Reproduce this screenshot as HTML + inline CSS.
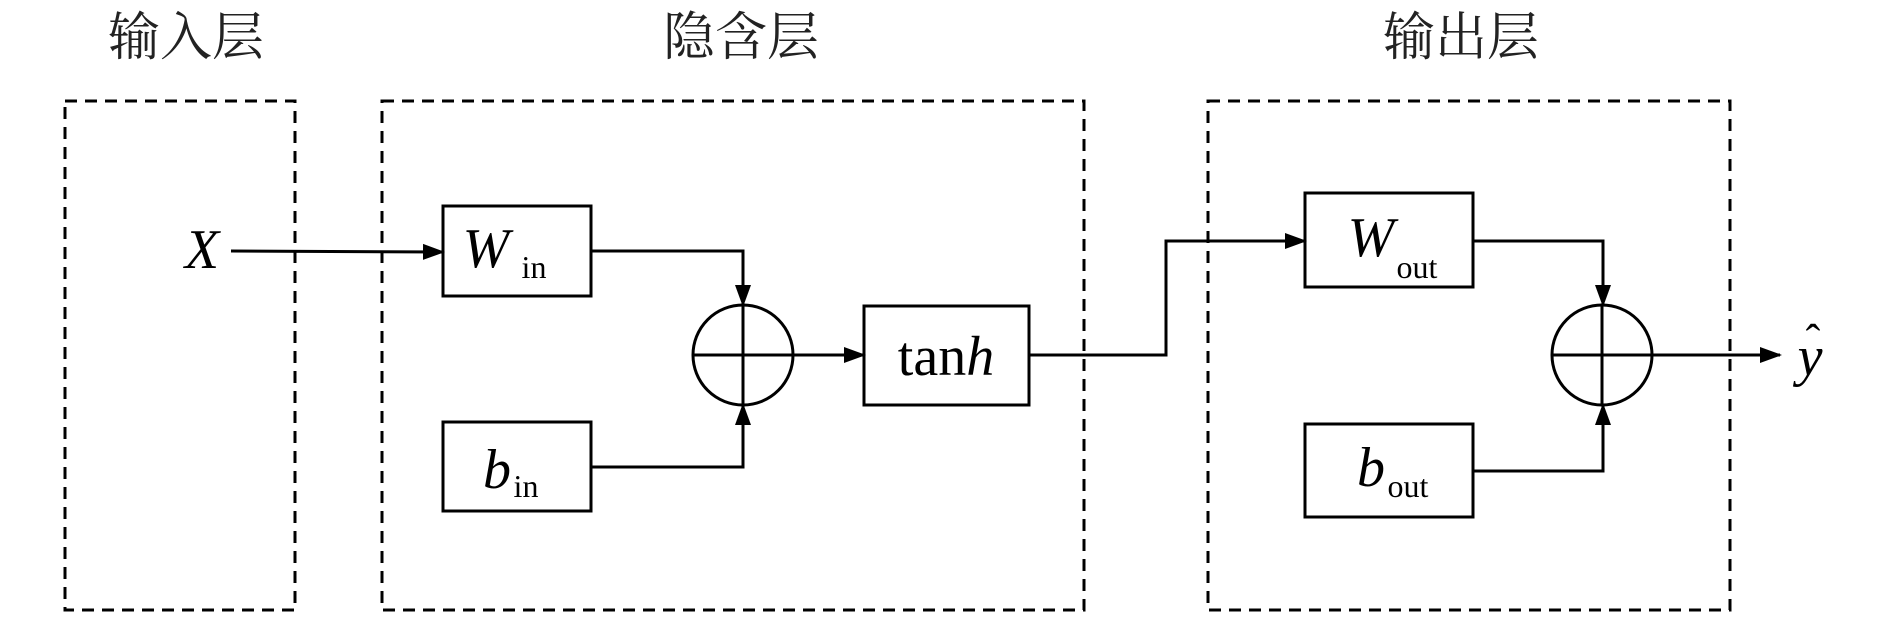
<!DOCTYPE html>
<html><head><meta charset="utf-8"><style>
html,body{margin:0;padding:0;background:#fff;}
</style></head><body>
<svg width="1890" height="619" viewBox="0 0 1890 619" xmlns="http://www.w3.org/2000/svg">
<defs>
<marker id="a" markerWidth="10" markerHeight="10" refX="9" refY="5" orient="auto" markerUnits="userSpaceOnUse" viewBox="0 0 10 10">
<path d="M0,0 L10,5 L0,10 z" fill="#000"/></marker>
<marker id="b" markerWidth="22" markerHeight="20" refX="20" refY="10" orient="auto" markerUnits="userSpaceOnUse" viewBox="0 0 22 20">
<path d="M0,2 L22,10 L0,18 z" fill="#000"/></marker>
</defs>
<g font-family="'Liberation Serif','Noto Serif CJK SC',serif" font-size="52" text-anchor="middle" fill="#222">
<text x="186" y="55">输入层</text>
<text x="741" y="55">隐含层</text>
<text x="1461" y="55">输出层</text>
</g>
<g fill="none" stroke="#000" stroke-width="3" stroke-dasharray="12,8">
<rect x="65" y="101" width="230" height="509"/>
<rect x="382" y="101" width="702" height="509"/>
<rect x="1208" y="101" width="522" height="509"/>
</g>
<g fill="#fff" stroke="#000" stroke-width="3">
<rect x="443" y="206" width="148" height="90"/>
<rect x="443" y="422" width="148" height="89"/>
<rect x="864" y="306" width="165" height="99"/>
<rect x="1305" y="193" width="168" height="94"/>
<rect x="1305" y="424" width="168" height="93"/>
<ellipse cx="743" cy="355" rx="50" ry="50"/>
<ellipse cx="1602" cy="355" rx="50" ry="50"/>
</g>
<g stroke="#000" stroke-width="3" fill="none">
<line x1="693" y1="355" x2="793" y2="355"/><line x1="743" y1="305" x2="743" y2="405"/>
<line x1="1552" y1="355" x2="1652" y2="355"/><line x1="1602" y1="305" x2="1602" y2="405"/>
<line x1="231" y1="251" x2="443" y2="252" marker-end="url(#b)"/>
<polyline points="591,251 743,251 743,305" marker-end="url(#b)"/>
<polyline points="591,467 743,467 743,405" marker-end="url(#b)"/>
<line x1="793" y1="355" x2="864" y2="355" marker-end="url(#b)"/>
<polyline points="1029,355 1166,355 1166,241 1305,241" marker-end="url(#b)"/>
<polyline points="1473,241 1603,241 1603,305" marker-end="url(#b)"/>
<polyline points="1473,471 1603,471 1603,405" marker-end="url(#b)"/>
<line x1="1652" y1="355" x2="1780" y2="355" marker-end="url(#b)"/>
</g>
<g font-family="'Liberation Serif',serif" fill="#000">
<text x="202" y="268" font-size="56" font-style="italic" text-anchor="middle">X</text>
<text x="486" y="267" font-size="56" font-style="italic" text-anchor="middle">W</text>
<text x="534" y="278" font-size="32" text-anchor="middle">in</text>
<text x="497" y="488" font-size="56" font-style="italic" text-anchor="middle">b</text>
<text x="526" y="497" font-size="32" text-anchor="middle">in</text>
<text x="946" y="375" font-size="56" text-anchor="middle">tan<tspan font-style="italic">h</tspan></text>
<text x="1371" y="256" font-size="56" font-style="italic" text-anchor="middle">W</text>
<text x="1417" y="278" font-size="32" text-anchor="middle">out</text>
<text x="1371" y="486" font-size="56" font-style="italic" text-anchor="middle">b</text>
<text x="1408" y="497" font-size="32" text-anchor="middle">out</text>
<text x="1810" y="375" font-size="56" font-style="italic" text-anchor="middle">y</text>
<text x="1813" y="355" font-size="44" text-anchor="middle">ˆ</text>
</g>
</svg>
</body></html>
